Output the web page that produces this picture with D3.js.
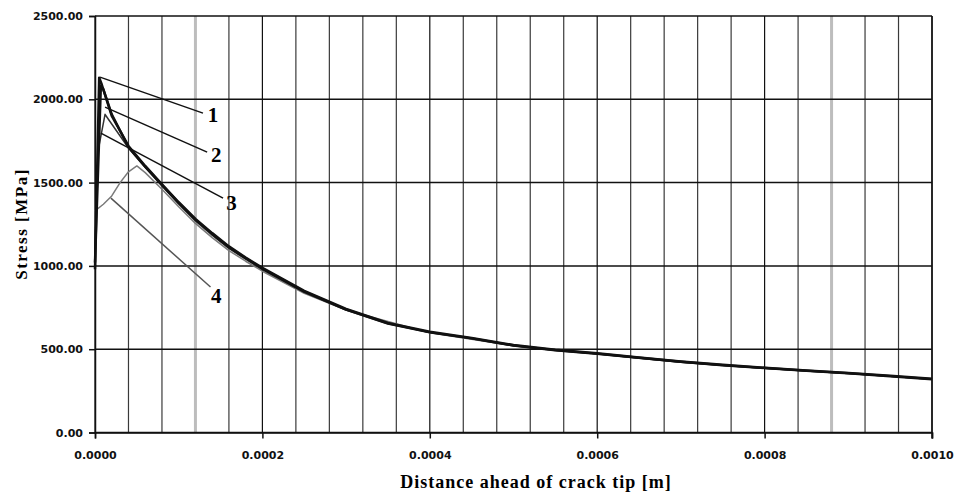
<!DOCTYPE html>
<html>
<head>
<meta charset="utf-8">
<script src="https://cdn.jsdelivr.net/npm/d3@7"></script>
<style>
body{margin:0;background:#fff;}
</style>
</head>
<body>
<script>
//数据
let x1=[0,0.000005,0.000008,0.00002,0.00004,0.00006,0.00008,0.0001,0.00012,0.00014,0.00016,0.00018,0.0002,0.00025,0.0003,0.00035,0.0004,0.00045,0.0005,0.00055,0.0006,0.00065,0.0007,0.00075,0.0008,0.00085,0.0009,0.00095,0.001];
let y1=[980,2130,2090,1900,1720,1600,1490,1382,1282,1197,1117,1050,988,850,742,658,605,568,525,497,476,450,426,406,389,372,357,340,322];
let x2=[0,0.000007,0.00001,0.00002,0.00004,0.00006,0.00008,0.0001,0.00012,0.00014,0.00016,0.00018,0.0002,0.00025,0.0003,0.00035,0.0004,0.00045,0.0005,0.00055,0.0006,0.00065,0.0007,0.00075,0.0008,0.00085,0.0009,0.00095,0.001];
let y2=[1020,2080,2060,1910,1712,1595,1486,1378,1278,1192,1112,1046,984,846,738,654,601,565,522,494,473,448,424,404,387,370,355,338,320];
let x3=[0,0.000004,0.000012,0.000016,0.00003,0.00004,0.00006,0.00008,0.0001,0.00012,0.00014,0.00016,0.00018,0.0002,0.00025,0.0003,0.00035,0.0004,0.00045,0.0005,0.00055,0.0006,0.00065,0.0007,0.00075,0.0008,0.00085,0.0009,0.00095,0.001];
let y3=[1100,1700,1910,1880,1780,1708,1590,1480,1372,1270,1185,1105,1040,978,842,735,652,600,563,520,492,471,446,422,402,385,369,354,337,319];
let x4=[0,0.00001,0.00002,0.00003,0.00004,0.00005,0.00006,0.00008,0.0001,0.00012,0.00014,0.00016,0.00018,0.0002,0.00025,0.0003,0.0004,0.0005,0.0006,0.0007,0.0008,0.0009,0.001];
let y4=[1330,1370,1420,1500,1565,1600,1560,1460,1355,1255,1170,1092,1028,968,835,735,598,520,472,422,386,355,320];

//标注 1-4
let labels=["1","2","3","4"];
let leadX0=[0.000006,0.000012,0.000007,0.000019];
let leadY0=[2133,1953,1797,1407];
let leadX1=[0.000129,0.000134,0.000153,0.000138];
let leadY1=[1917,1683,1407,873];
let labelX=[0.000141,0.000145,0.000163,0.000145];
let labelY=[1905,1665,1377,819];

let yTicks=[0,500,1000,1500,2000,2500];
let xTicks=[0,0.0002,0.0004,0.0006,0.0008,0.001];

//画布
let width=954,height=492;
let mLeft=95,mRight=932,mTop=16,mBottom=432.5;
let svg=d3.select("body").append("svg").attr("width",width).attr("height",height)
    .style("background","#fff");

let x=d3.scaleLinear().domain([0,0.001]).range([mLeft,mRight]);
let y=d3.scaleLinear().domain([0,2500]).range([mBottom,mTop]);

//竖向网格
let vgrid=d3.range(0,26).map(i=>i*0.00004);
svg.append("g").selectAll("line").data(vgrid).enter().append("line")
    .attr("x1",d=>x(d)).attr("x2",d=>x(d))
    .attr("y1",mTop).attr("y2",mBottom)
    .attr("stroke",(d,i)=>(i==3||i==22)?"#bdbdbd":(i%5==0?"#111":"#3a3a3a"))
    .attr("stroke-width",(d,i)=>(i==3||i==22)?3:1.2);

//横向网格
svg.append("g").selectAll("line").data(yTicks).enter().append("line")
    .attr("x1",mLeft).attr("x2",mRight)
    .attr("y1",d=>y(d)).attr("y2",d=>y(d))
    .attr("stroke","#111").attr("stroke-width",1.5);

//坐标轴
let yAxis=d3.axisLeft(y).tickValues(yTicks).tickFormat(d3.format(".2f")).tickSize(6).tickPadding(6);
let gy=svg.append("g").attr("transform",`translate(${mLeft},0)`).call(yAxis);
let xAxis=d3.axisBottom(x).tickValues(xTicks).tickFormat(d3.format(".4f")).tickSize(6).tickPadding(13);
let gx=svg.append("g").attr("transform",`translate(0,${mBottom})`).call(xAxis);
[gy,gx].forEach(g=>{
    g.select(".domain").attr("stroke","#111").attr("stroke-width",1.5);
    g.selectAll(".tick line").attr("stroke","#111").attr("stroke-width",1.5);
    g.selectAll("text").style("font-family","DejaVu Sans").style("font-size","11px")
        .style("font-weight","600").attr("fill","#111");
});
//右边框
svg.append("line").attr("x1",mRight).attr("x2",mRight).attr("y1",mTop).attr("y2",mBottom+6)
    .attr("stroke","#111").attr("stroke-width",1.5);

//曲线
let line=d3.line().x(d=>x(d[0])).y(d=>y(d[1]));
let series=[
    {xs:x4,ys:y4,color:"#7a7a7a",w:1.5},
    {xs:x3,ys:y3,color:"#333",w:1.5},
    {xs:x2,ys:y2,color:"#111",w:2.5},
    {xs:x1,ys:y1,color:"#111",w:2.5}
];
series.forEach(s=>{
    svg.append("path").datum(d3.zip(s.xs,s.ys)).attr("d",line)
        .attr("fill","none").attr("stroke",s.color).attr("stroke-width",s.w)
        .attr("stroke-linejoin","round");
});

//标注线和数字
for(let i=0;i<labels.length;i++){
    svg.append("line")
        .attr("x1",x(leadX0[i])).attr("y1",y(leadY0[i]))
        .attr("x2",x(leadX1[i])).attr("y2",y(leadY1[i]))
        .attr("stroke",i==3?"#555":"#111").attr("stroke-width",1.5);
    svg.append("text").attr("x",x(labelX[i])).attr("y",y(labelY[i]))
        .attr("text-anchor","middle").attr("dominant-baseline","central")
        .style("font-family","Liberation Serif").style("font-weight","bold").style("font-size","21px")
        .text(labels[i]);
}

//标题
svg.append("text").attr("x",536).attr("y",488).attr("text-anchor","middle")
    .style("font-family","Liberation Serif").style("font-weight","bold").style("font-size","18px")
    .style("letter-spacing","1px")
    .text("Distance ahead of crack tip [m]");
svg.append("text").attr("transform","translate(27,224) rotate(-90)").attr("text-anchor","middle")
    .style("font-family","Liberation Serif").style("font-weight","bold").style("font-size","17px")
    .style("letter-spacing","1.5px")
    .text("Stress [MPa]");
</script>
</body>
</html>
